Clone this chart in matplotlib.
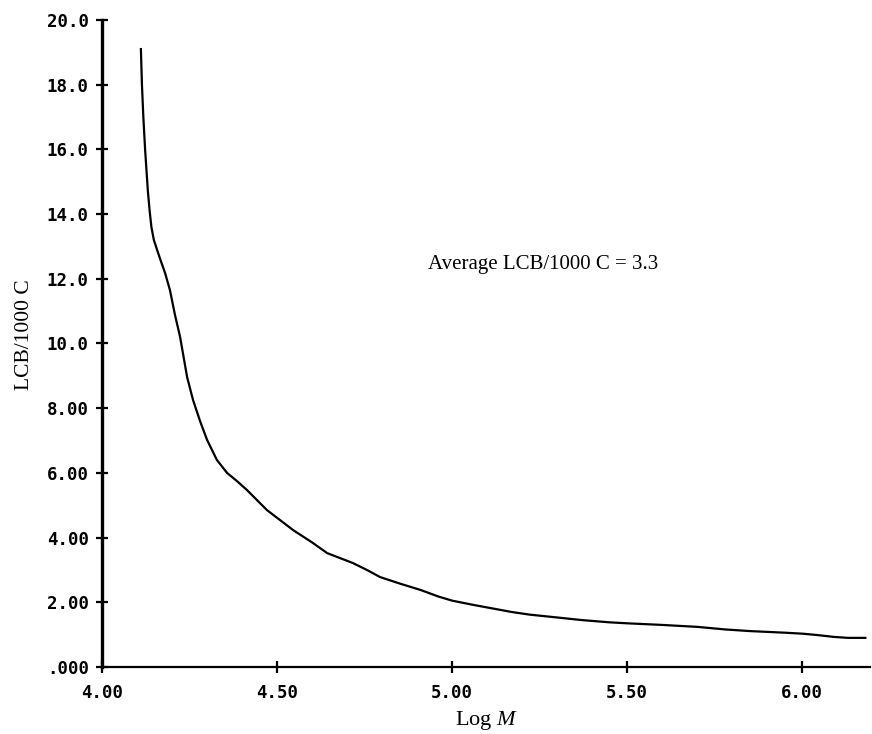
import matplotlib
matplotlib.use('Agg')
import matplotlib.pyplot as plt

plt.rcParams['mathtext.fontset'] = 'custom'
plt.rcParams['mathtext.rm'] = 'Liberation Serif'
plt.rcParams['mathtext.it'] = 'Liberation Serif:italic'

# curve
log_m = [4.111, 4.114, 4.118, 4.123, 4.131, 4.136, 4.141, 4.148, 4.157, 4.168,
         4.180, 4.194, 4.208, 4.223, 4.243, 4.260, 4.280, 4.300, 4.328, 4.357,
         4.385, 4.414, 4.471, 4.546, 4.600, 4.643, 4.717, 4.760, 4.794, 4.850,
         4.910, 4.960, 5.000, 5.060, 5.110, 5.170, 5.220, 5.300, 5.370, 5.450,
         5.500, 5.600, 5.700, 5.780, 5.850, 5.950, 6.000, 6.040, 6.090, 6.130,
         6.180]
lcb = [19.1, 18.0, 17.0, 16.0, 14.7, 14.1, 13.6, 13.2, 12.9, 12.55,
       12.18, 11.65, 10.9, 10.2, 8.96, 8.25, 7.6, 7.02, 6.40, 6.0,
       5.75, 5.47, 4.85, 4.23, 3.85, 3.52, 3.21, 2.98, 2.78, 2.58,
       2.38, 2.18, 2.05, 1.92, 1.82, 1.70, 1.62, 1.53, 1.45, 1.38,
       1.35, 1.30, 1.24, 1.16, 1.11, 1.06, 1.03, 0.99, 0.93, 0.90,
       0.90]

x_ticks = [4.0, 4.5, 5.0, 5.5, 6.0]
x_ticklabels = ['4.00', '4.50', '5.00', '5.50', '6.00']
y_ticks = [0, 2, 4, 6, 8, 10, 12, 14, 16, 18, 20]
y_ticklabels = ['.000', '2.00', '4.00', '6.00', '8.00', '10.0', '12.0', '14.0', '16.0', '18.0', '20.0']

fig = plt.figure(figsize=(8.72, 7.34), dpi=100)
ax = fig.add_axes([0.117, 0.0913, 0.881, 0.8815])

ax.plot(log_m, lcb, color='black', linewidth=1.6)

ax.set_xlim(4.0, 6.194)
ax.set_ylim(0, 20)

ax.spines['top'].set_visible(False)
ax.spines['right'].set_visible(False)
ax.spines['left'].set_linewidth(2.4)
ax.spines['bottom'].set_linewidth(1.6)

ax.set_xticks(x_ticks)
ax.set_xticklabels(x_ticklabels)
ax.set_yticks(y_ticks)
ax.set_yticklabels(y_ticklabels)
ax.tick_params(direction='inout', length=9, width=1.6)
ax.tick_params(axis='x', pad=7.5)
ax.tick_params(axis='y', pad=5)
for lbl in ax.get_xticklabels() + ax.get_yticklabels():
    lbl.set_family('DejaVu Sans Mono')
    lbl.set_fontweight('bold')
    lbl.set_fontsize(12.5)

ax.set_xlabel('Log $M$', family='Liberation Serif', fontsize=16, labelpad=5)
ax.set_ylabel('LCB/1000 C', family='Liberation Serif', fontsize=15.5)
ax.yaxis.set_label_coords(-0.089, 0.513)

ax.text(4.931, 12.45, 'Average LCB/1000 C = 3.3', family='Liberation Serif',
        fontsize=15, va='center', ha='left')

fig.savefig('out.png', dpi=100, facecolor='white')
